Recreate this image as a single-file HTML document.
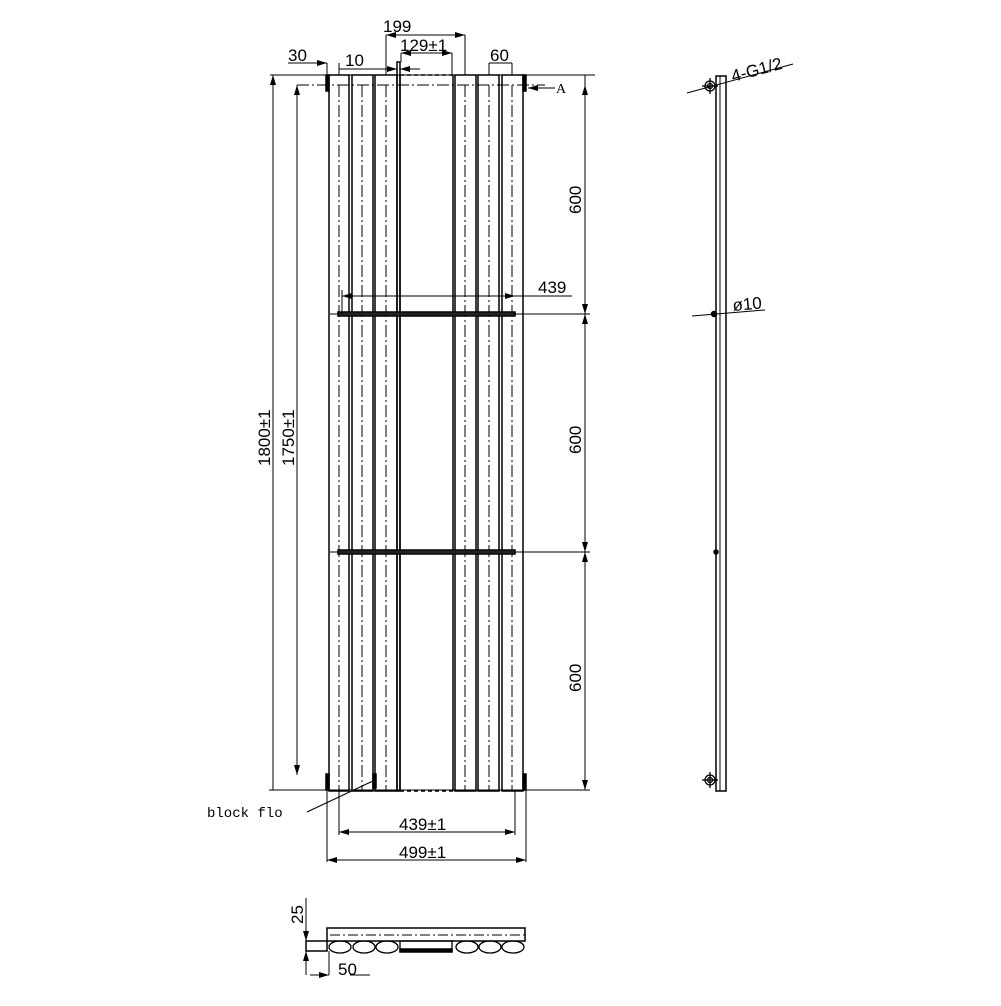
<!DOCTYPE html>
<html><head><style>html,body{margin:0;padding:0;background:#fff}</style></head><body>
<svg width="1001" height="1001" viewBox="0 0 1001 1001" xmlns="http://www.w3.org/2000/svg" font-family="Liberation Sans, sans-serif">
<defs>
<marker id="a" viewBox="0 0 10 6" refX="10" refY="3" markerWidth="10" markerHeight="6" orient="auto-start-reverse" markerUnits="userSpaceOnUse"><path d="M0,0 L10,3 L0,6 z" fill="#000"/></marker>
</defs>
<g stroke="#000" fill="none" stroke-width="1.5">
<rect x="329" y="75" width="20" height="716"/>
<rect x="352" y="75" width="21" height="716"/>
<rect x="375" y="75" width="22" height="716"/>
<rect x="455" y="75" width="21" height="716"/>
<rect x="478" y="75" width="21" height="716"/>
<rect x="502" y="75" width="21" height="716"/>
<line x1="400" y1="75" x2="400" y2="791"/>
<line x1="453" y1="75" x2="453" y2="791"/>
<line x1="400" y1="75" x2="453" y2="75" stroke-dasharray="4 3"/>
<line x1="400" y1="791" x2="453" y2="791" stroke-dasharray="4 3"/>
<rect x="326" y="75" width="3" height="16" fill="#000"/>
<rect x="523" y="75" width="3" height="16" fill="#000"/>
<rect x="326" y="774" width="3" height="16" fill="#000"/>
<rect x="523" y="774" width="3" height="16" fill="#000"/>
<rect x="397" y="62" width="3" height="729"/>
<g stroke-width="1" stroke-dasharray="12 3 2 3">
<line x1="339" y1="85" x2="339" y2="791"/><line x1="362" y1="85" x2="362" y2="791"/><line x1="386" y1="85" x2="386" y2="791"/>
<line x1="465" y1="85" x2="465" y2="791"/><line x1="489" y1="85" x2="489" y2="791"/><line x1="512" y1="85" x2="512" y2="791"/>
<line x1="297" y1="85" x2="545" y2="85"/>
</g>
<rect x="338" y="312" width="177" height="4" fill="#444"/>
<rect x="338" y="550" width="177" height="4" fill="#444"/>
<line x1="330" y1="314" x2="590" y2="314" stroke-width="1"/>
<line x1="330" y1="552" x2="590" y2="552" stroke-width="1"/>
<line x1="342" y1="296" x2="515" y2="296" stroke-width="1" marker-start="url(#a)" marker-end="url(#a)"/>
<line x1="515" y1="296" x2="572" y2="296" stroke-width="1"/>
<line x1="342" y1="290" x2="342" y2="314" stroke-width="1"/>
<g stroke-width="1">
<line x1="270" y1="75" x2="595" y2="75"/>
<line x1="297" y1="790" x2="590" y2="790"/>
<line x1="273" y1="75" x2="273" y2="790" marker-start="url(#a)"/>
<line x1="297" y1="85" x2="297" y2="775" marker-start="url(#a)" marker-end="url(#a)"/>
<line x1="269" y1="790" x2="330" y2="790"/>
<line x1="585" y1="75" x2="585" y2="790"/>
<line x1="585" y1="85" x2="585" y2="314" marker-start="url(#a)" marker-end="url(#a)"/>
<line x1="585" y1="314" x2="585" y2="552" marker-start="url(#a)" marker-end="url(#a)"/>
<line x1="585" y1="552" x2="585" y2="790" marker-start="url(#a)" marker-end="url(#a)"/>
<line x1="528" y1="88" x2="555" y2="88" marker-start="url(#a)"/>
<line x1="386" y1="35" x2="386" y2="75"/><line x1="465" y1="35" x2="465" y2="75"/>
<line x1="386" y1="35" x2="465" y2="35" marker-start="url(#a)" marker-end="url(#a)"/>
<line x1="401" y1="53" x2="401" y2="62"/><line x1="452" y1="53" x2="452" y2="75"/>
<line x1="401" y1="53" x2="452" y2="53" marker-start="url(#a)" marker-end="url(#a)"/>
<line x1="327" y1="63" x2="327" y2="75"/><line x1="339" y1="63" x2="339" y2="75"/>
<line x1="288" y1="63" x2="327" y2="63" marker-end="url(#a)"/>
<line x1="339" y1="69" x2="397" y2="69" marker-end="url(#a)"/>
<line x1="400" y1="69" x2="420" y2="69" marker-start="url(#a)"/>
<line x1="489" y1="63" x2="489" y2="75"/><line x1="512" y1="63" x2="512" y2="75"/>
<line x1="489" y1="63" x2="512" y2="63"/>
<line x1="339" y1="790" x2="339" y2="835"/><line x1="515" y1="790" x2="515" y2="835"/>
<line x1="339" y1="832" x2="515" y2="832" marker-start="url(#a)" marker-end="url(#a)"/>
<line x1="327" y1="790" x2="327" y2="862"/><line x1="526" y1="790" x2="526" y2="862"/>
<line x1="327" y1="860" x2="526" y2="860" marker-start="url(#a)" marker-end="url(#a)"/>
<line x1="307" y1="812" x2="375" y2="780"/>
</g>
<rect x="373" y="774" width="3" height="14" fill="#000"/>
<rect x="716" y="76" width="10" height="715"/>
<line x1="720" y1="76" x2="720" y2="791" stroke-width="1"/>
<line x1="687" y1="93" x2="793" y2="64" stroke-width="1"/>
<line x1="692" y1="316" x2="765" y2="310" stroke-width="1"/>
<circle cx="714" cy="314" r="2.5" fill="#000"/>
<circle cx="716" cy="552" r="2" fill="#000"/>
<g stroke-width="1.3"><circle cx="710" cy="86" r="5"/><circle cx="710" cy="86" r="2.5"/><line x1="702" y1="86" x2="718" y2="86"/><line x1="710" y1="78" x2="710" y2="94"/>
<circle cx="710" cy="780" r="5"/><circle cx="710" cy="780" r="2.5"/><line x1="702" y1="780" x2="718" y2="780"/><line x1="710" y1="772" x2="710" y2="788"/></g>
<rect x="327" y="928" width="198" height="13"/>
<line x1="330" y1="935" x2="525" y2="935" stroke-width="1" stroke-dasharray="10 3 2 3"/>
<rect x="306" y="941" width="21" height="10"/>
<g stroke-width="1.3">
<ellipse cx="340" cy="947" rx="11" ry="6"/><ellipse cx="364" cy="947" rx="11" ry="6"/><ellipse cx="387" cy="947" rx="11" ry="6"/>
<ellipse cx="467" cy="947" rx="11" ry="6"/><ellipse cx="490" cy="947" rx="11" ry="6"/><ellipse cx="513" cy="947" rx="11" ry="6"/>
<rect x="400" y="941" width="52" height="10"/></g>
<rect x="400" y="949" width="52" height="3" fill="#000"/>
<g stroke-width="1">
<line x1="306" y1="898" x2="306" y2="941" marker-end="url(#a)"/>
<line x1="306" y1="975" x2="306" y2="951" marker-end="url(#a)"/>
<line x1="329" y1="951" x2="329" y2="975"/>
<line x1="310" y1="975" x2="329" y2="975" marker-end="url(#a)"/>
<line x1="370" y1="975" x2="350" y2="975"/>
</g>
</g>
<g font-size="17" fill="#000">
<text x="383" y="32">199</text>
<text x="400" y="51">129±1</text>
<text x="288" y="61">30</text>
<text x="345" y="66">10</text>
<text x="490" y="61">60</text>
<text x="538" y="293">439</text>
<text x="399" y="830">439±1</text>
<text x="399" y="858">499±1</text>
<text x="338" y="975">50</text>
<text font-family="Liberation Serif, serif" x="556" y="93" font-size="14">A</text>
<text transform="translate(581,214) rotate(-90)">600</text>
<text transform="translate(581,454) rotate(-90)">600</text>
<text transform="translate(581,692) rotate(-90)">600</text>
<text transform="translate(270,466) rotate(-90)">1800±1</text>
<text transform="translate(294,466) rotate(-90)">1750±1</text>
<text transform="translate(303,924) rotate(-90)">25</text>
<text transform="translate(733,82) rotate(-15)">4-G1/2</text>
<text transform="translate(733,311) rotate(-5)">ø10</text>
<text font-family="Liberation Mono, monospace" font-size="14" x="207" y="817">block flo</text>
</g>
</svg>
</body></html>
